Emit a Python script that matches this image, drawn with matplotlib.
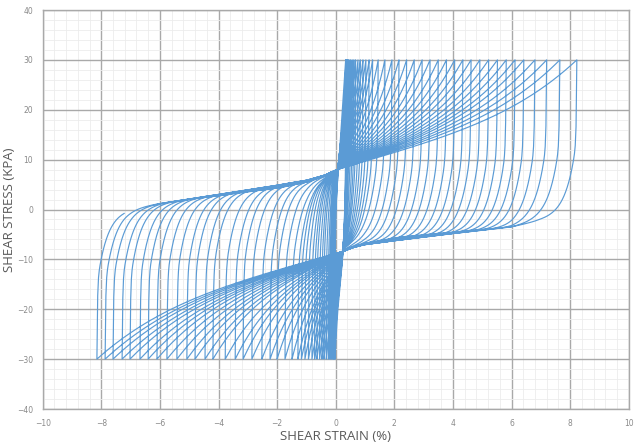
import numpy as np
import matplotlib.pyplot as plt
from matplotlib.ticker import MultipleLocator

# peak strains (%) reached at +30 / -30 kPa in each load cycle
pos_peak = [0.34, 0.35, 0.36, 0.37, 0.38, 0.40, 0.42, 0.45,
            0.50, 0.56, 0.62, 0.68, 0.76, 0.84, 0.93, 1.03, 1.14, 1.26,
            1.45, 1.68, 1.92, 2.16, 2.42, 2.68, 2.95, 3.22, 3.50, 3.78,
            4.06, 4.34, 4.62, 4.92, 5.22, 5.52, 5.82, 6.12, 6.42, 6.80,
            7.20, 7.65, 8.23]
neg_peak = [-0.02, -0.05, -0.08, -0.12, -0.16, -0.20, -0.25, -0.32,
            -0.40, -0.47, -0.55, -0.64, -0.72, -0.81, -0.93, -1.05, -1.17, -1.29,
            -1.49, -1.73, -2.00, -2.24, -2.52, -2.86, -3.16, -3.43, -3.77, -4.19,
            -4.46, -4.80, -5.08, -5.42, -5.76, -6.10, -6.40, -6.68, -7.02, -7.29,
            -7.60, -7.87, -8.15]
stress_amp = 30.0   # kPa
end_strain = -7.2   # test stopped here on the last reload

# low-stiffness (flow) part of the reload / unload branches
reload_band_x = [-8.6, -7.0, -6.0, -4.0, -2.0, -1.0, -0.4, 0.05]
reload_band_y = [0.0, 1.0, 1.9, 3.4, 4.9, 5.8, 6.8, 8.0]
unload_band_x = [0.30, 0.6, 1.0, 2.0, 4.0, 6.0, 7.0, 8.6]
unload_band_y = [-8.3, -7.6, -7.0, -6.3, -5.2, -4.2, -3.0, -1.5]


def rise(d, span):
    # steep part right after a stress reversal, 1 at the reversal, 0 at the far end
    s = min(1.0, span / 3.0)
    e = 0.5 * np.exp(-d / (0.018 * s)) + 0.5 * np.exp(-d / (0.34 * s))
    e_end = 0.5 * np.exp(-span / (0.018 * s)) + 0.5 * np.exp(-span / (0.34 * s))
    return (e - e_end) / (1 - e_end)


def harden(u):
    return 0.65 * u + 0.35 * u ** 4


def reload(n, p, npts=600):
    x = np.linspace(n, p, npts)
    c, c_lvl = reload_band_x[-1], reload_band_y[-1]
    # larger cycles run a little softer along the flow band
    shift = (0.7 - 0.17 * abs(n)) * np.clip((c - x) / 2.0, 0, 1)
    base = np.interp(x, reload_band_x, reload_band_y) + shift
    u = np.clip((x - c) / (p - c), 0, 1)
    base = np.where(x > c, c_lvl + (stress_amp - c_lvl) * harden(u), base)
    y = base - (stress_amp + base[0]) * rise(x - n, p - n)
    return x, y


def unload(p, n, npts=600):
    x = np.linspace(p, n, npts)
    c, c_lvl = unload_band_x[0], unload_band_y[0]
    shift = (0.7 - 0.17 * abs(p)) * np.clip((x - c) / 2.0, 0, 1)
    base = np.interp(x, unload_band_x, unload_band_y) - shift
    u = np.clip((c - x) / (c - n), 0, 1)
    base = np.where(x < c, c_lvl - (stress_amp + c_lvl) * harden(u), base)
    y = base + (stress_amp - base[0]) * rise(p - x, p - n)
    return x, y


# build the full strain / stress record
xs = [np.linspace(0, pos_peak[0], 50)]
ys = [np.linspace(0, stress_amp, 50)]
for k in range(len(pos_peak)):
    if k > 0:
        x, y = reload(neg_peak[k - 1], pos_peak[k])
        xs.append(x); ys.append(y)
    x, y = unload(pos_peak[k], neg_peak[k])
    xs.append(x); ys.append(y)
x, y = reload(neg_peak[-1], pos_peak[-1])
keep = x <= end_strain
xs.append(x[keep]); ys.append(y[keep])
strain = np.concatenate(xs)
stress = np.concatenate(ys)

fig = plt.figure(figsize=(6.34, 4.45), dpi=100)
ax = fig.add_axes([42.7 / 634, 1 - 409 / 445, 586 / 634, 399 / 445])

ax.plot(strain, stress, color='#5b9bd5', lw=0.85)

ax.set_xlim(-10, 10)
ax.set_ylim(-40, 40)
ax.xaxis.set_major_locator(MultipleLocator(2))
ax.xaxis.set_minor_locator(MultipleLocator(0.4))
ax.yaxis.set_major_locator(MultipleLocator(10))
ax.yaxis.set_minor_locator(MultipleLocator(2))
ax.grid(which='major', color='#a9a9a9', lw=1.0)
ax.grid(which='minor', color='#ececec', lw=0.6)
ax.set_axisbelow(True)
for sp in ax.spines.values():
    sp.set_color('#a9a9a9')
    sp.set_linewidth(1.0)
ax.tick_params(which='both', length=0, labelsize=5.5, labelcolor='#8a8a8a')
ax.tick_params(axis='x', pad=7)
ax.tick_params(axis='y', pad=7)

lab_font = dict(family=['Liberation Sans Narrow', 'Open Sans', 'DejaVu Sans'],
                size=9.5, color='#595959')
fig.text(335.7 / 634, 1 - 437 / 445, 'SHEAR STRAIN (%)', ha='center', va='center', **lab_font)
fig.text(10 / 634, 1 - 209.5 / 445, 'SHEAR STRESS (KPA)', ha='center', va='center',
         rotation=90, **lab_font)

fig.savefig('out.png', dpi=100)
